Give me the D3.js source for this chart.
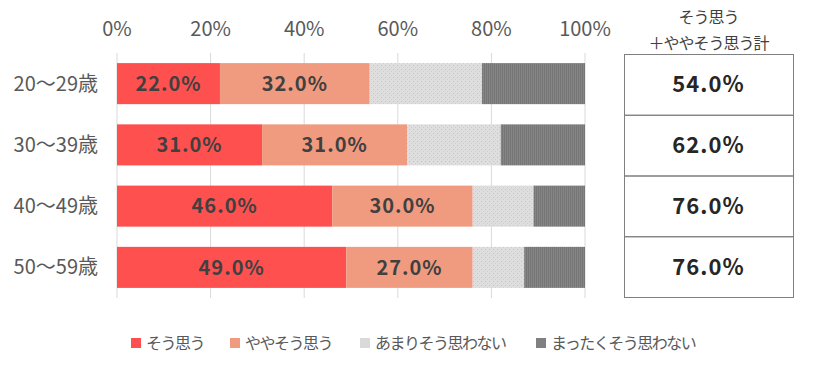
<!DOCTYPE html>
<html>
<head>
<meta charset="utf-8">
<script src="https://cdn.jsdelivr.net/npm/d3@7"></script>
<style>
  body { margin: 0; background: #fff; }
  text { font-family: "Noto Sans CJK JP", "Noto Sans", sans-serif; }
</style>
</head>
<body>
<div id="chart"></div>
<script>
const ages = ["20～29歳", "30～39歳", "40～49歳", "50～59歳"];
const seriesNames = ["そう思う", "ややそう思う", "あまりそう思わない", "まったくそう思わない"];
const agree = [22, 31, 46, 49];
const somewhat = [32, 31, 30, 27];
const notMuch = [24, 20, 13, 11];
const notAtAll = [22, 18, 11, 13];
const totals = [54, 62, 76, 76];
const xTicks = [0, 20, 40, 60, 80, 100];

const width = 815, height = 374;
const svg = d3.select("#chart").append("svg")
  .attr("width", width)
  .attr("height", height);

// patterns for the two grey series
const defs = svg.append("defs");
const dots = defs.append("pattern")
  .attr("id", "dots").attr("patternUnits", "userSpaceOnUse")
  .attr("width", 4).attr("height", 4);
dots.append("rect").attr("width", 4).attr("height", 4).attr("fill", "#dedede");
dots.append("rect").attr("x", 1).attr("y", 1).attr("width", 1).attr("height", 1).attr("fill", "#c4c4c4");
dots.append("rect").attr("x", 3).attr("y", 3).attr("width", 1).attr("height", 1).attr("fill", "#cccccc");
const lines = defs.append("pattern")
  .attr("id", "vlines").attr("patternUnits", "userSpaceOnUse")
  .attr("width", 2).attr("height", 4);
lines.append("rect").attr("width", 2).attr("height", 4).attr("fill", "#858585");
lines.append("rect").attr("width", 1).attr("height", 4).attr("fill", "#767676");

const colors = ["#ff5050", "#f09b80", "url(#dots)", "url(#vlines)"];
const legendColors = ["#ff5050", "#f09b80", "#d9d9d9", "#808080"];

const x = d3.scaleLinear().domain([0, 100]).range([117, 585]);
const y = d3.scaleBand().domain(ages).range([53, 298]).paddingInner(0.33).paddingOuter(0.165);

// gridlines
svg.append("g").selectAll("line")
  .data(xTicks)
  .join("line")
  .attr("x1", d => x(d)).attr("x2", d => x(d))
  .attr("y1", 53).attr("y2", 298)
  .attr("stroke", "#d9d9d9").attr("stroke-width", 1);

// top axis labels
svg.append("g").selectAll("text")
  .data(xTicks)
  .join("text")
  .attr("x", d => x(d)).attr("y", 36)
  .attr("text-anchor", "middle")
  .attr("font-size", 20)
  .attr("fill", "#595959")
  .text(d => d + "%");

// category labels
svg.append("g").selectAll("text")
  .data(ages)
  .join("text")
  .attr("x", 98).attr("y", d => y(d) + y.bandwidth() / 2)
  .attr("dy", "0.35em")
  .attr("text-anchor", "end")
  .attr("font-size", 20)
  .attr("fill", "#595959")
  .text(d => d);

// stacked bars
const rows = ages.map((a, i) => ({ age: a, values: [agree[i], somewhat[i], notMuch[i], notAtAll[i]] }));
const stack = d3.stack().keys([0, 1, 2, 3]).value((d, k) => d.values[k]);
const layers = stack(rows);

const layerG = svg.append("g").selectAll("g")
  .data(layers)
  .join("g")
  .attr("fill", (d, i) => colors[i]);

layerG.selectAll("rect")
  .data(d => d)
  .join("rect")
  .attr("x", d => x(d[0]))
  .attr("y", d => y(d.data.age))
  .attr("width", d => x(d[1]) - x(d[0]))
  .attr("height", y.bandwidth());

// value labels on the first two series
layerG.filter((d, i) => i < 2).selectAll("text")
  .data(d => d)
  .join("text")
  .attr("x", d => (x(d[0]) + x(d[1])) / 2)
  .attr("y", d => y(d.data.age) + y.bandwidth() / 2)
  .attr("dy", "0.36em")
  .attr("text-anchor", "middle")
  .attr("font-size", 20)
  .attr("letter-spacing", 1)
  .attr("font-weight", "bold")
  .attr("fill", "#404040")
  .text(d => (d[1] - d[0]).toFixed(1) + "%");

// totals table
const tx0 = 624, tx1 = 793;
const tHeader = svg.append("g")
  .attr("font-size", 16).attr("letter-spacing", -1)
  .attr("fill", "#404040").attr("text-anchor", "middle");
tHeader.append("text").attr("x", (tx0 + tx1) / 2).attr("y", 23).text("そう思う");
tHeader.append("text").attr("x", (tx0 + tx1) / 2).attr("y", 49).text("＋ややそう思う計");

const tRow = d3.scaleBand().domain(ages).range([54, 297]);
const table = svg.append("g");
table.selectAll("rect")
  .data(ages)
  .join("rect")
  .attr("x", tx0 + 0.5).attr("y", d => tRow(d) + 0.5)
  .attr("width", tx1 - tx0).attr("height", tRow.bandwidth())
  .attr("fill", "none").attr("stroke", "#7f7f7f").attr("stroke-width", 1);
table.selectAll("text")
  .data(totals)
  .join("text")
  .attr("x", (tx0 + tx1) / 2)
  .attr("y", (d, i) => tRow(ages[i]) + tRow.bandwidth() / 2)
  .attr("dy", "0.36em")
  .attr("text-anchor", "middle")
  .attr("font-size", 22)
  .attr("letter-spacing", 1)
  .attr("font-weight", "bold")
  .attr("fill", "#262626")
  .text(d => d.toFixed(1) + "%");

// legend
const legendX = [131, 230, 360, 536];
const legend = svg.append("g").selectAll("g")
  .data(seriesNames)
  .join("g")
  .attr("transform", (d, i) => `translate(${legendX[i]},343)`);
legend.append("rect")
  .attr("x", 0).attr("y", -5).attr("width", 10).attr("height", 10)
  .attr("fill", (d, i) => legendColors[i]);
legend.append("text")
  .attr("x", 15).attr("y", 0).attr("dy", "0.35em")
  .attr("font-size", 16)
  .attr("letter-spacing", -1.5)
  .attr("fill", "#595959")
  .text(d => d);
</script>
</body>
</html>
